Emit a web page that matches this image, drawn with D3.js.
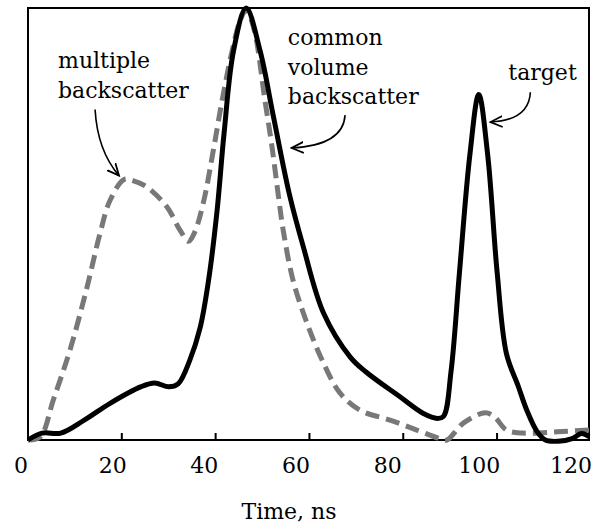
<!DOCTYPE html>
<html><head><meta charset="utf-8">
<script src="https://cdn.jsdelivr.net/npm/d3@7"></script>
<style>html,body{margin:0;padding:0;background:#fff;} svg{display:block;}</style>
</head><body>
<svg id="chart" width="593" height="525"></svg>
<script>
// ---- data ----
const solidT = [0, 3, 7, 12, 17.5, 24, 27, 30, 32, 34.5, 36.7, 38.5, 40.3, 41.8, 43.8, 46.5, 49.5, 52.3, 55.7, 58.7, 63, 68.7, 72, 79.3, 84.2, 87.3, 88.6, 90.2, 92, 94.2, 96.1, 98, 100, 102, 104.5, 106.3, 108.5, 110.3, 113, 116, 118, 119.6];
const solidV = [0, 1.6, 1.6, 4.6, 8.5, 12.3, 13.2, 12.3, 13, 18.5, 26, 37, 53, 71, 90, 100, 90, 75, 57, 44.7, 29.4, 19.2, 15.8, 10, 6.2, 5, 5.5, 16, 39, 66, 80, 66, 39, 20, 12.5, 7, 2, 0, -0.3, 0.3, 1.5, 0.8];
const dashT = [0, 2.6, 5.4, 9, 12.5, 15.4, 17.5, 20.5, 22.5, 25.3, 29.6, 32.4, 34.2, 35.5, 37.5, 39.5, 41.4, 43.5, 45.2, 46.5, 48.2, 50.5, 52, 53.5, 54.4, 56.5, 59.5, 63, 66.5, 70.8, 77.2, 82.9, 87.8, 89.3, 92.8, 97.5, 99.5, 102, 105.5, 112.8, 119.6];
const dashV = [0, 0.7, 9.3, 21, 35, 48, 55.5, 60.3, 60, 58.6, 54, 48.6, 46, 48, 55.5, 67, 78.7, 90, 97, 99.5, 95, 78.7, 68, 55.5, 48.6, 37, 27, 17.8, 10.9, 6.9, 4.6, 2.3, 0.3, 0, 3.9, 6.3, 5.3, 2.3, 1.6, 1.9, 2.3];
const tickValues = [20, 40, 60, 80, 100];
const tickLabels = ["0", "20", "40", "60", "80", "100", "120"];
const tickLabelValues = [0, 20, 40, 60, 80, 100, 120];
const xTitle = "Time, ns";
// annotations: text lines + arrow start/tip in data units
const annotations = [
  {lines: ["multiple", "backscatter"], at: [6.4, 86.1], from: [14.3, 76.5], to: [19.4, 61.2], bend: [14.8, 67]},
  {lines: ["common", "volume", "backscatter"], at: [55.4, 91.4], from: [67.6, 75.2], to: [56.2, 67.6], bend: [67.2, 68.2]},
  {lines: ["target"], at: [102.4, 83.3], from: [107.1, 80.5], to: [98.6, 73.6], bend: [106.8, 74]}
];

// ---- layout ----
const W = 593, H = 525;
const m = {left: 28, right: 4, top: 8, bottom: 85};
const svg = d3.select("#chart");
const x = d3.scaleLinear().domain([0, 119.6]).range([m.left, W - m.right]);
const y = d3.scaleLinear().domain([0, 100]).range([H - m.bottom, m.top]);
const xLabel = d3.scaleLinear().domain([0, 120]).range([21, 571]);
const font = "'DejaVu Serif', serif";
const fs = 22;

// frame
svg.append("rect")
  .attr("x", x(0)).attr("y", y(100))
  .attr("width", x(119.6) - x(0)).attr("height", y(0) - y(100))
  .attr("fill", "none").attr("stroke", "#000").attr("stroke-width", 2);

// tick marks (inside, upward)
svg.append("g").selectAll("line").data(tickValues).join("line")
  .attr("x1", d => x(d)).attr("x2", d => x(d))
  .attr("y1", y(0)).attr("y2", y(0) - 7)
  .attr("stroke", "#000").attr("stroke-width", 2);

// tick labels
svg.append("g").selectAll("text").data(tickLabelValues).join("text")
  .attr("x", d => xLabel(d)).attr("y", 473)
  .attr("text-anchor", "middle")
  .attr("font-family", font).attr("font-size", fs)
  .text((d, i) => tickLabels[i]);

svg.append("text")
  .attr("x", 289).attr("y", 519)
  .attr("text-anchor", "middle")
  .attr("font-family", font).attr("font-size", fs)
  .text(xTitle);

const line = d3.line().x(d => x(d[0])).y(d => y(d[1])).curve(d3.curveCatmullRom.alpha(0.5));

// dashed grey curve
svg.append("path")
  .datum(dashT.map((t, i) => [t, dashV[i]]))
  .attr("d", line)
  .attr("fill", "none").attr("stroke", "#787878")
  .attr("stroke-width", 5).attr("stroke-dasharray", "14,7");

// solid black curve
svg.append("path")
  .datum(solidT.map((t, i) => [t, solidV[i]]))
  .attr("d", line)
  .attr("fill", "none").attr("stroke", "#000")
  .attr("stroke-width", 5).attr("stroke-linejoin", "round");

// arrow marker
svg.append("defs").append("marker")
  .attr("id", "arr").attr("viewBox", "-12 -7 14 14")
  .attr("refX", 0).attr("refY", 0)
  .attr("markerWidth", 14).attr("markerHeight", 14)
  .attr("markerUnits", "userSpaceOnUse")
  .attr("orient", "auto")
  .append("path").attr("d", "M-12,-5.5 L0,0 L-12,5.5")
  .attr("fill", "none").attr("stroke", "#000").attr("stroke-width", 1.8);

annotations.forEach(a => {
  const t = svg.append("text")
    .attr("font-family", font).attr("font-size", fs)
    .attr("x", x(a.at[0])).attr("y", y(a.at[1]));
  a.lines.forEach((l, i) => {
    t.append("tspan").attr("x", x(a.at[0])).attr("dy", i === 0 ? 0 : 29.5).text(l);
  });
  const p = d3.path();
  p.moveTo(x(a.from[0]), y(a.from[1]));
  p.quadraticCurveTo(x(a.bend[0]), y(a.bend[1]), x(a.to[0]), y(a.to[1]));
  svg.append("path").attr("d", p.toString())
    .attr("fill", "none").attr("stroke", "#000").attr("stroke-width", 1.6)
    .attr("marker-end", "url(#arr)");
});
</script>
</body></html>
